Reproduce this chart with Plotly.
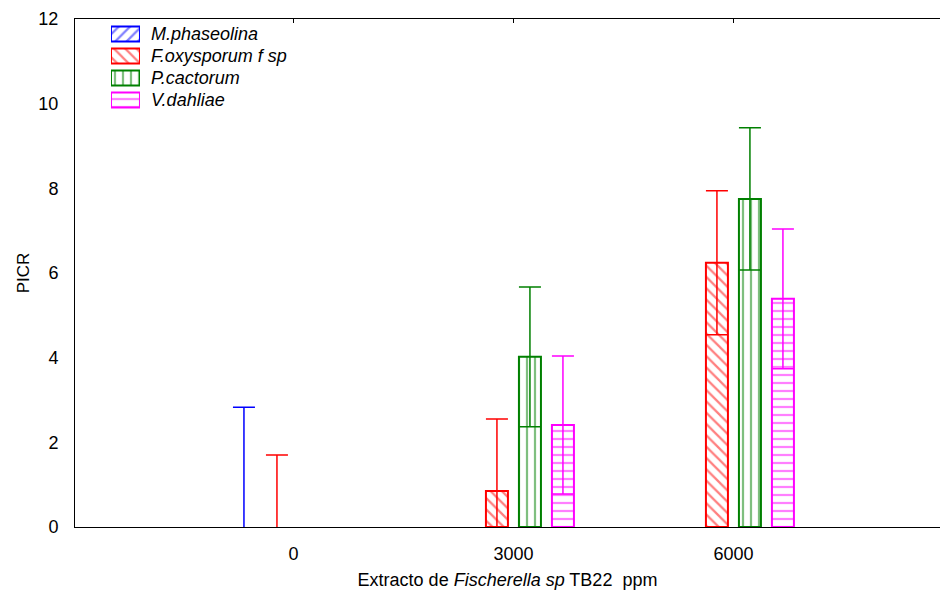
import plotly.graph_objects as go

# Extract concentrations (ppm) and PICR means with their error half-widths
doses = ["0", "3000", "6000"]
species = ["M.phaseolina", "F.oxysporum f sp", "P.cactorum", "V.dahliae"]

picr_mphaseolina = [0.0, 0.0, 0.0]
picr_foxysporum = [0.0, 0.85, 6.24]
picr_pcactorum = [0.0, 4.02, 7.75]
picr_vdahliae = [0.0, 2.41, 5.39]

err_mphaseolina = [2.83, None, None]
err_foxysporum = [1.70, 1.70, 1.70]
err_pcactorum = [None, 1.65, 1.68]
err_vdahliae = [None, 1.63, 1.65]

values = [picr_mphaseolina, picr_foxysporum, picr_pcactorum, picr_vdahliae]
errors = [err_mphaseolina, err_foxysporum, err_pcactorum, err_vdahliae]
colors = ["#0000ff", "#ff0000", "#008000", "#ff00ff"]
hatches = ["/", "\\", "|", "-"]

pos = list(range(len(doses)))
font = "Liberation Sans, Arial, sans-serif"
fsize = 18


def hatch_marker(col, hatch, line_width):
    return dict(
        color="white",
        line=dict(color=col, width=line_width),
        pattern=dict(shape=hatch, fgcolor=col, bgcolor="white",
                     size=8, solidity=0.28, fillmode="overlay"),
    )


fig = go.Figure()
for name, vals, errs, col, hatch in zip(species, values, errors, colors, hatches):
    # zero means without an error estimate are left undrawn (no empty caps)
    y_plot = [v if (v > 0 or e is not None) else None for v, e in zip(vals, errs)]
    widths = [2 if v > 0 else 0 for v in vals]
    fig.add_trace(go.Bar(
        x=pos, y=y_plot, name=name, showlegend=False,
        marker=hatch_marker(col, hatch, widths),
        error_y=dict(type="data", array=[e if e is not None else 0 for e in errs],
                     visible=True, color=col, thickness=1.5, width=11),
    ))

# helper trace carrying the top frame with its inward ticks
fig.add_trace(go.Scatter(x=pos, y=[0, 0, 0], xaxis="x2", mode="markers",
                         marker=dict(opacity=0), showlegend=False,
                         hoverinfo="skip"))

# key: one hatched swatch per species, names as labels on the right
for name, col, hatch in zip(species, colors, hatches):
    fig.add_trace(go.Bar(
        x=[1], y=[name], orientation="h", xaxis="x3", yaxis="y3",
        width=0.68, marker=hatch_marker(col, hatch, 2),
        showlegend=False, hoverinfo="skip",
    ))

xr = [-0.993, 2.939]
fig.update_layout(
    width=940, height=590,
    margin=dict(l=75, r=0, t=19, b=63),
    paper_bgcolor="white", plot_bgcolor="white",
    barmode="group", bargap=0.4, bargroupgap=1/3,
    font=dict(family=font, size=fsize, color="black"),
    showlegend=False,
    xaxis=dict(
        range=xr, tickmode="array", tickvals=pos, ticktext=doses,
        tickfont=dict(size=fsize),
        showline=True, linecolor="black", linewidth=1, ticks="",
        showgrid=False, zeroline=False, ticklabelstandoff=10,
        title=dict(text="Extracto de <i>Fischerella sp</i> TB22  ppm",
                   standoff=12, font=dict(size=fsize)),
    ),
    xaxis2=dict(
        range=xr, overlaying="x", side="top", tickmode="array",
        tickvals=pos, showticklabels=False, ticks="inside", ticklen=4,
        tickcolor="black", showline=True, linecolor="black", linewidth=1,
        showgrid=False, zeroline=False,
    ),
    yaxis=dict(
        range=[0, 12], tickvals=[0, 2, 4, 6, 8, 10, 12],
        tickfont=dict(size=fsize),
        showline=True, linecolor="black", linewidth=1, ticks="",
        showgrid=False, zeroline=False, ticklabelstandoff=12,
        title=dict(text="PICR", standoff=4, font=dict(size=17)),
    ),
    xaxis3=dict(
        domain=[0.0416, 0.0751], range=[0, 1], anchor="y3",
        visible=False, fixedrange=True,
    ),
    yaxis3=dict(
        domain=[0.819, 0.992], anchor="x3", side="right",
        autorange="reversed", type="category",
        tickmode="array", tickvals=species,
        ticktext=["<i>" + s + "</i>" for s in species],
        tickfont=dict(size=fsize),
        ticks="", showline=False, showgrid=False, zeroline=False,
        ticklabelstandoff=10, fixedrange=True,
    ),
)

fig.write_html("out.html")
